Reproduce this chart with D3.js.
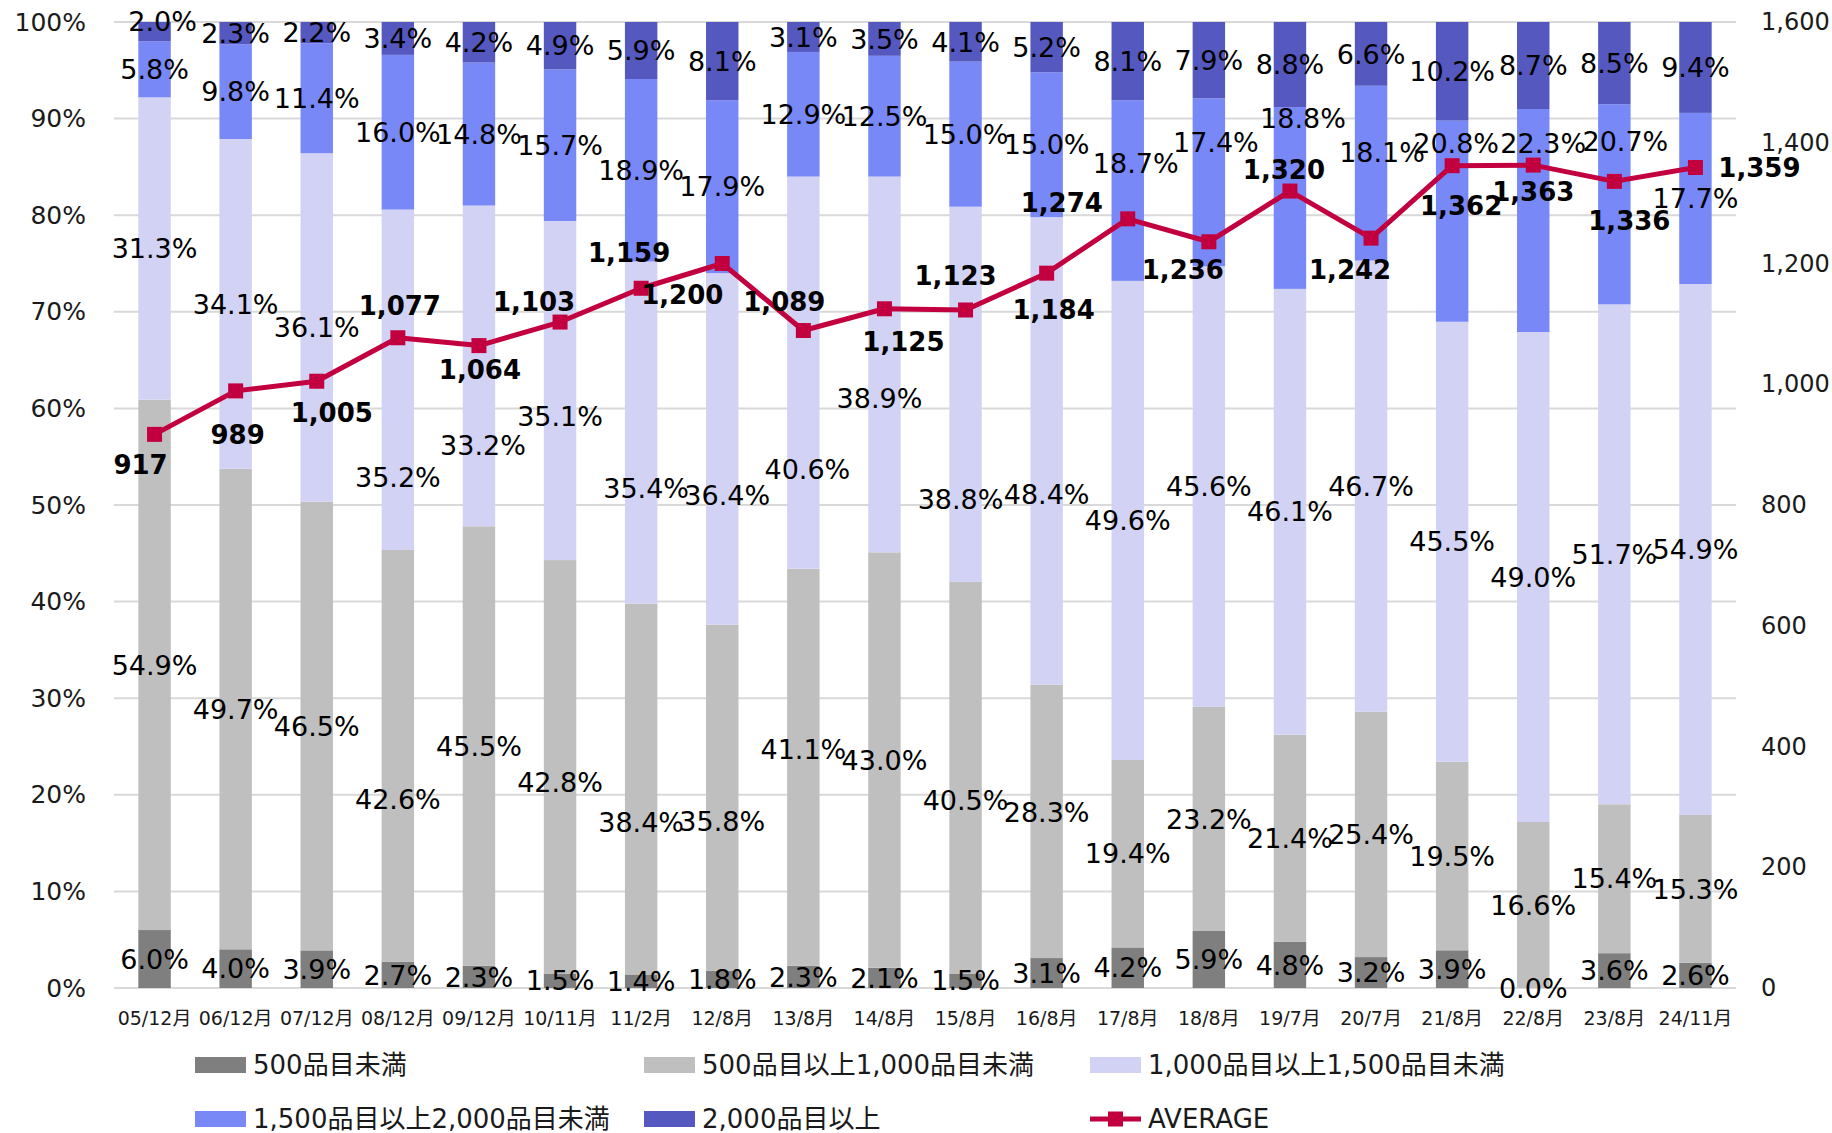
<!DOCTYPE html>
<html>
<head>
<meta charset="utf-8">
<script src="https://cdn.jsdelivr.net/npm/d3@7"></script>
<style>
  body { margin: 0; background: #fff; }
  svg text { font-family: "DejaVu Sans", "Noto Sans CJK JP", sans-serif; }
</style>
</head>
<body>
<div class="canvas"></div>
<script>
const categories = ['05/12月','06/12月','07/12月','08/12月','09/12月','10/11月','11/2月','12/8月','13/8月','14/8月',
    '15/8月','16/8月','17/8月','18/8月','19/7月','20/7月','21/8月','22/8月','23/8月','24/11月'];

const seriesNames = ['500品目未満','500品目以上1,000品目未満','1,000品目以上1,500品目未満','1,500品目以上2,000品目未満','2,000品目以上'];

const under500    = [6.0, 4.0, 3.9, 2.7, 2.3, 1.5, 1.4, 1.8, 2.3, 2.1, 1.5, 3.1, 4.2, 5.9, 4.8, 3.2, 3.9, 0.0, 3.6, 2.6];
const from500     = [54.9, 49.7, 46.5, 42.6, 45.5, 42.8, 38.4, 35.8, 41.1, 43.0, 40.5, 28.3, 19.4, 23.2, 21.4, 25.4, 19.5, 16.6, 15.4, 15.3];
const from1000    = [31.3, 34.1, 36.1, 35.2, 33.2, 35.1, 35.4, 36.4, 40.6, 38.9, 38.8, 48.4, 49.6, 45.6, 46.1, 46.7, 45.5, 49.0, 51.7, 54.9];
const from1500    = [5.8, 9.8, 11.4, 16.0, 14.8, 15.7, 18.9, 17.9, 12.9, 12.5, 15.0, 15.0, 18.7, 17.4, 18.8, 18.1, 20.8, 22.3, 20.7, 17.7];
const over2000    = [2.0, 2.3, 2.2, 3.4, 4.2, 4.9, 5.9, 8.1, 3.1, 3.5, 4.1, 5.2, 8.1, 7.9, 8.8, 6.6, 10.2, 8.7, 8.5, 9.4];
const average     = [917, 989, 1005, 1077, 1064, 1103, 1159, 1200, 1089, 1125, 1123, 1184, 1274, 1236, 1320, 1242, 1362, 1363, 1336, 1359];

const leftTicks = [0, 0.1, 0.2, 0.3, 0.4, 0.5, 0.6, 0.7, 0.8, 0.9, 1.0];
const rightTicks = [0, 200, 400, 600, 800, 1000, 1200, 1400, 1600];

const colors = ['#7f7f7f', '#bfbfbf', '#d2d3f4', '#7988f7', '#5558be'];
const lineColor = '#c3003f';

// hand-moved data labels (px nudges from the default spot), as in the original workbook
const pctLabelNudge = [
    {},
    { 3: [0, 43], 5: [0, 15], 6: [0, 33], 7: [0, 24], 8: [0, -18], 10: [0, 23], 11: [0, -9] },
    { 3: [0, 98], 4: [4, 79], 5: [0, 26], 6: [5, 56], 7: [5, 46], 8: [4, 97], 9: [-5, 34], 10: [-5, 105], 11: [0, 43] },
    { 12: [8, -27], 13: [7, -40], 14: [13, -80], 15: [11, -21], 16: [4, -78], 17: [10, -77], 18: [11, -63] },
    { 0: [8, -10] }
];
const avgLabelNudge = [[-14, 30], [2, 44], [15, 31], [2, -32], [1, 24], [-26, -20], [-12, -36], [-40, 31], [-19, -29], [19, 33],
    [-10, -34], [7, 36], [-66, -16], [-26, 28], [-6, -21], [-21, 31], [9, 40], [0, 27], [15, 39], [64, 0]];

const svgWidth = 1832;
const svgHeight = 1133;
const plot = { left: 114, right: 1736, top: 22, bottom: 988 };

const svg = d3.select('.canvas')
    .append('svg')
        .attr('width', svgWidth)
        .attr('height', svgHeight);

const rows = categories.map((c, i) => ({
    cat: c, s0: under500[i], s1: from500[i], s2: from1000[i], s3: from1500[i], s4: over2000[i]
}));
const keys = ['s0','s1','s2','s3','s4'];

const x = d3.scaleBand()
    .domain(categories)
    .range([plot.left, plot.right])
    .paddingInner(0.6)
    .paddingOuter(0.3);
const y = d3.scaleLinear().domain([0, 1]).range([plot.bottom, plot.top]);
const y2 = d3.scaleLinear().domain([0, 1600]).range([plot.bottom, plot.top]);

// gridlines
svg.append('g')
    .selectAll('line')
    .data(leftTicks)
    .enter().append('line')
        .attr('x1', plot.left)
        .attr('x2', plot.right)
        .attr('y1', d => y(d))
        .attr('y2', d => y(d))
        .attr('stroke', '#d9d9d9')
        .attr('stroke-width', 2);

// left axis
const yAxis = d3.axisLeft(y).tickValues(leftTicks).tickFormat(d3.format('.0%')).tickSize(0).tickPadding(0);
const yAxisGroup = svg.append('g')
    .attr('transform', 'translate(86,0)')
    .call(yAxis);
yAxisGroup.select('.domain').remove();
yAxisGroup.selectAll('text')
    .attr('font-size', 25)
    .attr('fill', '#1a1a1a')
    .attr('font-family', '"DejaVu Sans", sans-serif');

// right axis
const y2Axis = d3.axisRight(y2).tickValues(rightTicks).tickFormat(d3.format(',')).tickSize(0).tickPadding(0);
const y2AxisGroup = svg.append('g')
    .attr('transform', 'translate(1761,0)')
    .call(y2Axis);
y2AxisGroup.select('.domain').remove();
y2AxisGroup.selectAll('text')
    .attr('font-size', 24)
    .attr('fill', '#1a1a1a')
    .attr('font-family', '"DejaVu Sans", sans-serif');

// x axis labels
const xAxis = d3.axisBottom(x).tickSize(0).tickPadding(0);
const xAxisGroup = svg.append('g')
    .attr('transform', `translate(0,${plot.bottom + 24})`)
    .call(xAxis);
xAxisGroup.select('.domain').remove();
xAxisGroup.selectAll('text')
    .attr('font-size', 19)
    .attr('fill', '#1a1a1a')
    .attr('dy', '0.7em')
    .attr('font-family', '"DejaVu Sans", "Noto Sans CJK JP", sans-serif');

// stacked bars
const stacked = d3.stack().keys(keys).offset(d3.stackOffsetExpand)(rows);

const layers = svg.append('g')
    .selectAll('g')
    .data(stacked)
    .enter().append('g')
        .attr('fill', (d, i) => colors[i]);

layers.selectAll('rect')
    .data(d => d)
    .enter().append('rect')
        .attr('x', d => x(d.data.cat))
        .attr('width', x.bandwidth())
        .attr('y', d => y(d[1]))
        .attr('height', d => y(d[0]) - y(d[1]));

// percentage labels
const labelGroup = svg.append('g');
stacked.forEach((layer, li) => {
    const nudge = i => pctLabelNudge[li][i] || [0, 0];
    labelGroup.selectAll(null)
        .data(layer)
        .enter().append('text')
            .attr('x', (d, i) => x(d.data.cat) + x.bandwidth() / 2 + nudge(i)[0])
            .attr('y', (d, i) => y((d[0] + d[1]) / 2) + nudge(i)[1])
            .attr('dy', '0.36em')
            .attr('text-anchor', 'middle')
            .attr('font-size', 27)
            .attr('fill', '#000')
            .text(d => d.data[layer.key].toFixed(1) + '%');
});

// average line
const cx = c => x(c) + x.bandwidth() / 2;
const line = d3.line()
    .x((d, i) => cx(categories[i]))
    .y(d => y2(d));

svg.append('path')
    .datum(average)
    .attr('fill', 'none')
    .attr('stroke', lineColor)
    .attr('stroke-width', 5)
    .attr('stroke-linejoin', 'round')
    .attr('d', line);

svg.append('g')
    .selectAll('rect')
    .data(average)
    .enter().append('rect')
        .attr('x', (d, i) => cx(categories[i]) - 7.5)
        .attr('y', d => y2(d) - 7.5)
        .attr('width', 15)
        .attr('height', 15)
        .attr('fill', lineColor);

svg.append('g')
    .selectAll('text')
    .data(average)
    .enter().append('text')
        .attr('x', (d, i) => cx(categories[i]) + avgLabelNudge[i][0])
        .attr('y', (d, i) => y2(d) + avgLabelNudge[i][1])
        .attr('dy', '0.36em')
        .attr('text-anchor', 'middle')
        .attr('font-size', 26)
        .attr('font-weight', 'bold')
        .attr('fill', '#000')
        .text(d => d3.format(',')(d));

// legend
const legendItems = seriesNames.map((n, i) => ({ name: n, color: colors[i], type: 'bar' }))
    .concat([{ name: 'AVERAGE', color: lineColor, type: 'line' }]);
const legendCols = [195, 644, 1090];
const legendRows = [1065, 1119];

const legend = svg.append('g')
    .selectAll('g')
    .data(legendItems)
    .enter().append('g')
        .attr('transform', (d, i) => `translate(${legendCols[i % 3]},${legendRows[Math.floor(i / 3)]})`);

legend.filter(d => d.type === 'bar').append('rect')
    .attr('x', 0)
    .attr('y', -8)
    .attr('width', 51)
    .attr('height', 16)
    .attr('fill', d => d.color);

const lineItems = legend.filter(d => d.type === 'line');
lineItems.append('line')
    .attr('x1', 0)
    .attr('x2', 51)
    .attr('stroke', d => d.color)
    .attr('stroke-width', 5);
lineItems.append('rect')
    .attr('x', 18)
    .attr('y', -7.5)
    .attr('width', 15)
    .attr('height', 15)
    .attr('fill', d => d.color);

legend.append('text')
    .attr('x', 58)
    .attr('dy', '0.36em')
    .attr('font-size', 26)
    .attr('fill', '#1a1a1a')
    .text(d => d.name);
</script>
</body>
</html>
